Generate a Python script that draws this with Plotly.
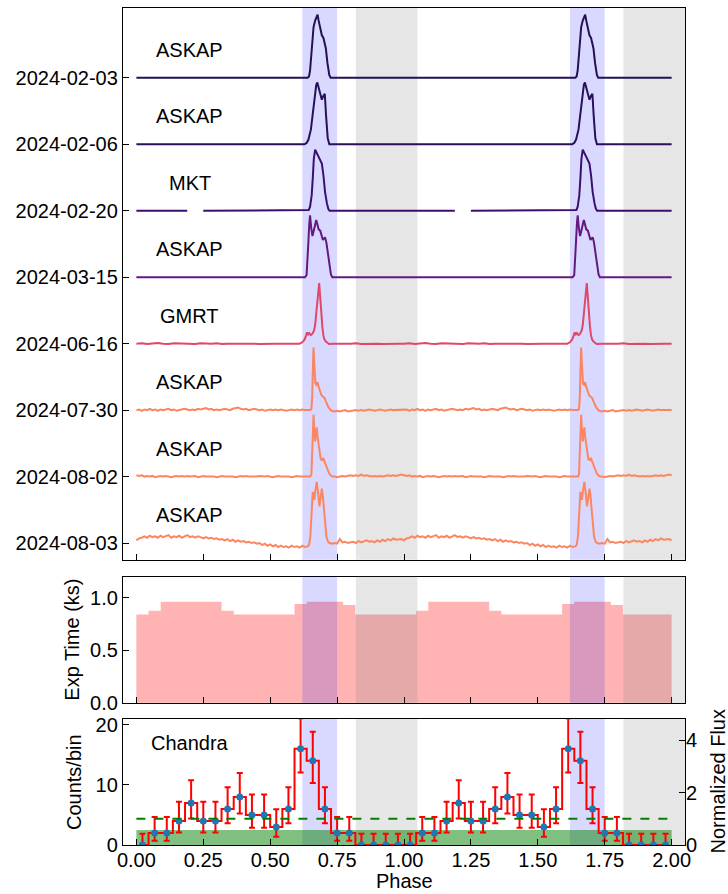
import plotly.graph_objects as go

# ---------------- data ----------------
dates = ["2024-02-03", "2024-02-06", "2024-02-20", "2024-03-15",
         "2024-06-16", "2024-07-30", "2024-08-02", "2024-08-03"]
telescopes = ["ASKAP", "ASKAP", "MKT", "ASKAP", "GMRT", "ASKAP", "ASKAP", "ASKAP"]
offsets = [7, 6, 5, 4, 3, 2, 1, 0]
line_colors = ["#231151", "#29115a", "#3b0f70", "#63197f",
               "#de4968", "#fa8560", "#fb8761", "#fb8761"]

# pulse phases / normalised values (one rotation)
p1_ph = [0.640, 0.645, 0.649, 0.655, 0.662, 0.668, 0.674, 0.677, 0.681, 0.684, 0.689,
         0.693, 0.699, 0.704, 0.708, 0.714, 0.718, 0.721, 0.726]
p1_v = [0.0, 0.02, 0.11, 0.41, 0.76, 0.86, 0.93, 0.95, 0.86, 0.79, 0.70,
        0.64, 0.60, 0.52, 0.44, 0.22, 0.10, 0.04, 0.0]
p2_ph = [0.628, 0.636, 0.643, 0.652, 0.659, 0.665, 0.672, 0.676, 0.680, 0.687, 0.693,
         0.699, 0.704, 0.709, 0.715, 0.721]
p2_v = [0.0, 0.02, 0.07, 0.22, 0.47, 0.72, 0.89, 0.93, 0.87, 0.77, 0.67,
        0.73, 0.76, 0.42, 0.09, 0.0]
p3_ph = [0.640, 0.644, 0.649, 0.655, 0.659, 0.663, 0.668, 0.674, 0.684, 0.693, 0.699,
         0.705, 0.712, 0.717, 0.722]
p3_v = [0.0, 0.01, 0.06, 0.23, 0.48, 0.78, 0.92, 0.87, 0.78, 0.71, 0.53,
        0.28, 0.11, 0.03, 0.0]
p4_ph = [0.630, 0.636, 0.640, 0.643, 0.646, 0.649, 0.653, 0.658, 0.664, 0.669, 0.672,
         0.676, 0.681, 0.687, 0.693, 0.697, 0.701, 0.705, 0.710, 0.716, 0.722, 0.727, 0.732]
p4_v = [0.0, 0.03, 0.25, 0.55, 0.80, 0.93, 0.75, 0.62, 0.72, 0.82, 0.86,
        0.80, 0.72, 0.70, 0.60, 0.56, 0.58, 0.60, 0.52, 0.38, 0.18, 0.04, 0.0]
p5_ph = [0.610, 0.620, 0.628, 0.634, 0.638, 0.642, 0.646, 0.652, 0.658, 0.664, 0.668,
         0.672, 0.676, 0.680, 0.683, 0.686, 0.689, 0.692, 0.695, 0.699, 0.703, 0.708, 0.714]
p5_v = [0.0, 0.02, 0.06, 0.12, 0.17, 0.14, 0.16, 0.13, 0.15, 0.20, 0.28,
        0.45, 0.65, 0.85, 0.91, 0.75, 0.52, 0.38, 0.25, 0.12, 0.06, 0.03, 0.01]
p6_ph = [0.650, 0.654, 0.657, 0.660, 0.662, 0.664, 0.666, 0.669, 0.673, 0.677, 0.681,
         0.686, 0.692, 0.698, 0.703, 0.708, 0.713, 0.718, 0.724]
p6_v = [0.0, 0.02, 0.20, 0.70, 0.94, 0.75, 0.52, 0.40, 0.38, 0.42, 0.35,
        0.28, 0.22, 0.20, 0.18, 0.13, 0.08, 0.04, 0.01]
p7_ph = [0.650, 0.654, 0.657, 0.660, 0.662, 0.665, 0.668, 0.671, 0.674, 0.677, 0.681,
         0.685, 0.689, 0.693, 0.698, 0.703, 0.708, 0.714, 0.720, 0.726, 0.732]
p7_v = [0.0, 0.03, 0.30, 0.75, 0.93, 0.70, 0.53, 0.65, 0.74, 0.60, 0.47,
        0.38, 0.26, 0.25, 0.28, 0.23, 0.17, 0.10, 0.05, 0.02, 0.0]
p8_ph = [0.645, 0.650, 0.653, 0.656, 0.659, 0.662, 0.665, 0.669, 0.674, 0.679, 0.684,
         0.689, 0.693, 0.697, 0.700, 0.705, 0.710, 0.716, 0.722]
p8_v = [-0.03, 0.10, 0.42, 0.68, 0.77, 0.72, 0.65, 0.80, 0.92, 0.75, 0.55,
        0.70, 0.82, 0.70, 0.55, 0.32, 0.10, 0.02, 0.0]

# off-pulse baselines (values on an even phase grid over one rotation)
flat_base = [0.0, 0.0]
p5_base = [0.000, 0.005, -0.005, 0.000, 0.010, 0.000, -0.005, 0.005, 0.000, 0.005,
           0.000, -0.005, 0.005, 0.000, 0.000, 0.005, -0.005, 0.000, 0.005, 0.000,
           0.000, 0.005, 0.000, -0.005, 0.000, 0.005, 0.000, 0.000, 0.005, 0.000,
           0.000, 0.000, 0.000, 0.000, 0.000, 0.000, -0.005, 0.000, 0.005, 0.000,
           0.000, 0.005, -0.005, 0.000, 0.005, 0.000, -0.005, 0.000, 0.005, 0.000]
p6_base = [0.00, 0.01, -0.01, 0.01, 0.00, 0.02, 0.00, 0.01, -0.01, 0.01,
           0.00, 0.01, 0.02, 0.00, 0.01, -0.01, 0.00, 0.01, 0.02, 0.01,
           0.00, 0.01, 0.00, 0.02, 0.01, 0.02, 0.03, 0.01, 0.02, 0.00,
           0.01, 0.00, 0.01, 0.02, 0.01, 0.00, 0.02, 0.03, 0.04, 0.02,
           0.01, 0.02, 0.00, 0.01, 0.02, 0.01, 0.00, 0.01, -0.01, 0.00,
           0.01, 0.00, 0.01, 0.00, 0.01, 0.00, -0.01, 0.00, 0.01, 0.00,
           0.01, 0.00, 0.01, 0.00, 0.00, 0.00, 0.00, 0.00, 0.00, 0.00,
           0.00, 0.00, 0.00, -0.01, -0.02, -0.01, -0.02, -0.01, 0.00, -0.02,
           -0.01, -0.01, 0.00, -0.01, 0.00, -0.01, 0.00, 0.01, 0.00, -0.01,
           0.00, 0.01, 0.00, -0.01, 0.00, 0.01, 0.00, 0.00, 0.01, 0.00]
p7_base = [0.02, 0.01, 0.02, 0.00, 0.01, 0.00, 0.01, -0.01, 0.00, 0.01,
           0.00, 0.01, 0.00, -0.01, 0.00, 0.01, 0.00, 0.01, 0.00, 0.01,
           0.00, 0.00, 0.01, -0.01, 0.00, 0.01, 0.00, 0.00, 0.01, 0.00,
           -0.01, 0.00, 0.01, 0.00, 0.00, 0.01, 0.00, -0.01, 0.00, 0.01,
           0.00, 0.01, 0.00, 0.00, -0.01, 0.00, 0.01, 0.00, 0.00, 0.01,
           0.00, -0.01, 0.00, 0.01, 0.00, 0.00, 0.01, 0.00, -0.01, 0.00,
           0.01, 0.00, 0.00, 0.01, 0.00, 0.00, 0.00, 0.00, 0.00, 0.00,
           0.00, 0.00, 0.00, -0.01, 0.00, -0.01, 0.00, 0.01, 0.00, 0.01,
           0.02, 0.01, 0.02, 0.01, 0.03, 0.01, 0.02, 0.01, 0.00, 0.01,
           0.00, 0.01, 0.00, 0.01, 0.02, 0.01, 0.02, 0.01, 0.02, 0.03]
p8_base = [0.04, 0.07, 0.08, 0.10, 0.08, 0.11, 0.09, 0.10, 0.08, 0.11,
           0.09, 0.10, 0.12, 0.08, 0.10, 0.09, 0.11, 0.08, 0.10, 0.12,
           0.09, 0.10, 0.08, 0.10, 0.09, 0.07, 0.09, 0.07, 0.08, 0.06,
           0.07, 0.05, 0.06, 0.04, 0.06, 0.03, 0.05, 0.02, 0.04, 0.02,
           0.03, 0.01, 0.02, 0.00, 0.01, -0.01, 0.00, -0.03, -0.01, -0.04,
           -0.02, -0.05, -0.03, -0.06, -0.04, -0.06, -0.05, -0.07, -0.04, -0.06,
           -0.05, -0.07, -0.04, -0.06, -0.05, -0.04, 0.00, 0.00, 0.00, 0.00,
           0.00, 0.00, 0.00, -0.01, 0.00, -0.01, 0.06, 0.01, 0.02, 0.00,
           0.01, 0.02, 0.00, 0.03, 0.01, 0.02, 0.04, 0.02, 0.03, 0.01,
           0.04, 0.02, 0.05, 0.03, 0.06, 0.04, 0.07, 0.05, 0.06, 0.06]

pulse_ph = [p1_ph, p2_ph, p3_ph, p4_ph, p5_ph, p6_ph, p7_ph, p8_ph]
pulse_v = [p1_v, p2_v, p3_v, p4_v, p5_v, p6_v, p7_v, p8_v]
bases = [flat_base, flat_base, flat_base, flat_base, p5_base, p6_base, p7_base, p8_base]
data_gaps = [[], [], [(0.19, 0.25)], [], [], [], [], []]

# Chandra exposure (ks) and counts in 22 phase bins
exp_time = [0.84, 0.875, 0.96, 0.96, 0.96, 0.96, 0.96, 0.875, 0.84, 0.84, 0.84,
            0.84, 0.84, 0.94, 0.96, 0.96, 0.96, 0.93, 0.84, 0.84, 0.84, 0.84]
counts = [0, 2, 2, 4, 7, 4, 4, 6, 8, 5, 5, 3, 6, 16, 14, 6, 2, 2, 0, 0, 0, 0]
err_up = [1.87, 2.66, 2.66, 3.18, 3.78, 3.18, 3.18, 3.60, 3.96, 3.40, 3.40,
          2.94, 3.60, 5.09, 4.84, 3.60, 2.66, 2.66, 1.87, 1.87, 1.87, 1.87]
err_dn = [0.0, 1.29, 1.29, 1.91, 2.58, 1.91, 1.91, 2.37, 2.76, 2.15, 2.15,
          1.63, 2.37, 3.95, 3.69, 2.37, 1.29, 1.29, 0.0, 0.0, 0.0, 0.0]
mean_counts = 4.36
bkg_level = 2.5

on_windows = [(0.62, 0.75), (1.62, 1.75)]
off_windows = [(0.82, 1.05), (1.82, 2.05)]

# ---------------- figure ----------------
FONT = "Liberation Sans, Arial, sans-serif"
FS = 20
fig = go.Figure()


def profile_points(base, ph, v, gaps):
    n = len(base)
    pts = [(i / n, b) for i, b in enumerate(base) if i / n < ph[0] or i / n > ph[-1]]
    pts += list(zip(ph, v))
    for a, b in gaps:
        pts = [(x, y) for x, y in pts if not (a <= x <= b)]
        pts += [(a, 0.0), ((a + b) / 2, None), (b, 0.0)]
    pts.sort(key=lambda t: t[0])
    pts.append((1.0, base[0]))
    return pts


for k in range(len(dates)):
    pts = profile_points(bases[k], pulse_ph[k], pulse_v[k], data_gaps[k])
    xs, ys = [], []
    for cyc in (0, 1):
        for x, y in pts:
            xs.append(x + cyc)
            ys.append(None if y is None else y + offsets[k])
    fig.add_trace(go.Scatter(x=xs, y=ys, mode="lines", xaxis="x", yaxis="y",
                             line=dict(color=line_colors[k], width=2),
                             showlegend=False, hoverinfo="skip"))
    fig.add_annotation(x=0.2, y=offsets[k] + 0.42, xref="x", yref="y",
                       text=telescopes[k], showarrow=False,
                       xanchor="center", yanchor="middle",
                       font=dict(family=FONT, size=FS, color="black"))

# exposure panel
nb = len(exp_time)
edges = [i / nb for i in range(2 * nb + 1)]
exp2 = exp_time + exp_time
fig.add_trace(go.Scatter(x=edges, y=exp2 + [exp2[-1]], mode="lines", xaxis="x2", yaxis="y2",
                         line=dict(width=0, shape="hv", color="#ffb2b2"),
                         fill="tozeroy", fillcolor="#ffb3b3",
                         showlegend=False, hoverinfo="skip"))

# counts panel
centers = [(i + 0.5) / nb for i in range(2 * nb)]
c2 = counts + counts
fig.add_trace(go.Scatter(x=centers, y=c2, mode="lines", xaxis="x3", yaxis="y3",
                         line=dict(color="red", width=2, shape="hvh"),
                         showlegend=False, hoverinfo="skip"))
fig.add_trace(go.Scatter(x=centers, y=c2, mode="markers", xaxis="x3", yaxis="y3",
                         marker=dict(color="#1f77b4", size=7),
                         error_y=dict(type="data", symmetric=False,
                                      array=err_up + err_up, arrayminus=err_dn + err_dn,
                                      color="red", thickness=2, width=3),
                         showlegend=False, hoverinfo="skip"))
fig.add_trace(go.Scatter(x=[0, 2], y=[mean_counts, mean_counts], mode="lines",
                         xaxis="x3", yaxis="y3",
                         line=dict(color="green", width=2, dash="dash"),
                         showlegend=False, hoverinfo="skip"))
# invisible trace to activate right axis
fig.add_trace(go.Scatter(x=[0], y=[0], mode="markers", xaxis="x3", yaxis="y4",
                         marker=dict(opacity=0), showlegend=False, hoverinfo="skip"))

# shapes
shapes = []
shapes.append(dict(type="rect", xref="x3", yref="y3", x0=0, x1=2, y0=0, y1=bkg_level,
                   fillcolor="rgba(0,128,0,0.5)", line=dict(width=0), layer="below"))
for xr_, yr_, layer in (("x", "y", "below"), ("x2", "y2", "above"), ("x3", "y3", "below")):
    for a, b in on_windows:
        shapes.append(dict(type="rect", xref=xr_, yref=yr_ + " domain", x0=a, x1=b, y0=0, y1=1,
                           fillcolor="rgba(0,0,255,0.15)", line=dict(width=0), layer=layer))
    for a, b in off_windows:
        shapes.append(dict(type="rect", xref=xr_, yref=yr_ + " domain", x0=a, x1=b, y0=0, y1=1,
                           fillcolor="rgba(128,128,128,0.2)", line=dict(width=0), layer=layer))
fig.update_layout(shapes=shapes)

# axis titles / panel labels
def label(text, x, y, xref="paper", yref="paper", angle=0):
    fig.add_annotation(x=x, y=y, xref=xref, yref=yref, text=text, textangle=angle,
                       showarrow=False, xanchor="center", yanchor="middle",
                       font=dict(family=FONT, size=FS, color="black"))

label("Chandra", 0.2, 0.81, "x3", "y3 domain")
label("Phase", 0.5, -0.0435)
label("Exp Time (ks)", -0.0907, 0.2453, angle=-90)
label("Counts/bin", -0.087, 0.0754, angle=-90)
label("Normalized Flux", 1.058, 0.0754, angle=-90)

xticks = [0, 0.25, 0.5, 0.75, 1.0, 1.25, 1.5, 1.75, 2.0]
ax_common = dict(showline=True, linecolor="black", linewidth=1.3, mirror=True,
                 ticks="inside", ticklen=6, tickwidth=1.2, tickcolor="black",
                 showgrid=False, zeroline=False,
                 tickfont=dict(family=FONT, size=FS, color="black"))
xr = [-0.05, 2.05]
fig.update_layout(
    width=728, height=894,
    margin=dict(l=123, r=43, t=3, b=49),
    paper_bgcolor="white", plot_bgcolor="white",
    showlegend=False,
    xaxis=dict(domain=[0, 1], anchor="y", range=xr, tickvals=xticks, showticklabels=False, **ax_common),
    xaxis2=dict(domain=[0, 1], anchor="y2", range=xr, tickvals=xticks, showticklabels=False, **ax_common),
    xaxis3=dict(domain=[0, 1], anchor="y3", range=xr, tickvals=xticks, tickformat=".2f",
                ticklabelstandoff=-3, **ax_common),
    yaxis=dict(domain=[0.3409, 1], anchor="x", range=[-0.25, 8.05],
               tickvals=offsets, ticktext=dates, **ax_common),
    yaxis2=dict(domain=[0.1698, 0.3207], anchor="x2", range=[0, 1.2],
                tickvals=[0, 0.5, 1.0], tickformat=".1f", **ax_common),
    yaxis3=dict(domain=[0, 0.1508], anchor="x3", range=[0, 21],
                tickvals=[0, 10, 20], **ax_common),
    yaxis4=dict(overlaying="y3", anchor="x3", side="right", range=[0, 21 / mean_counts],
                tickvals=[0, 2, 4], showline=False, ticks="inside", ticklen=6, tickwidth=1.2,
                tickcolor="black", showgrid=False, zeroline=False,
                tickfont=dict(family=FONT, size=FS, color="black")),
)

fig.write_html("out.html")
